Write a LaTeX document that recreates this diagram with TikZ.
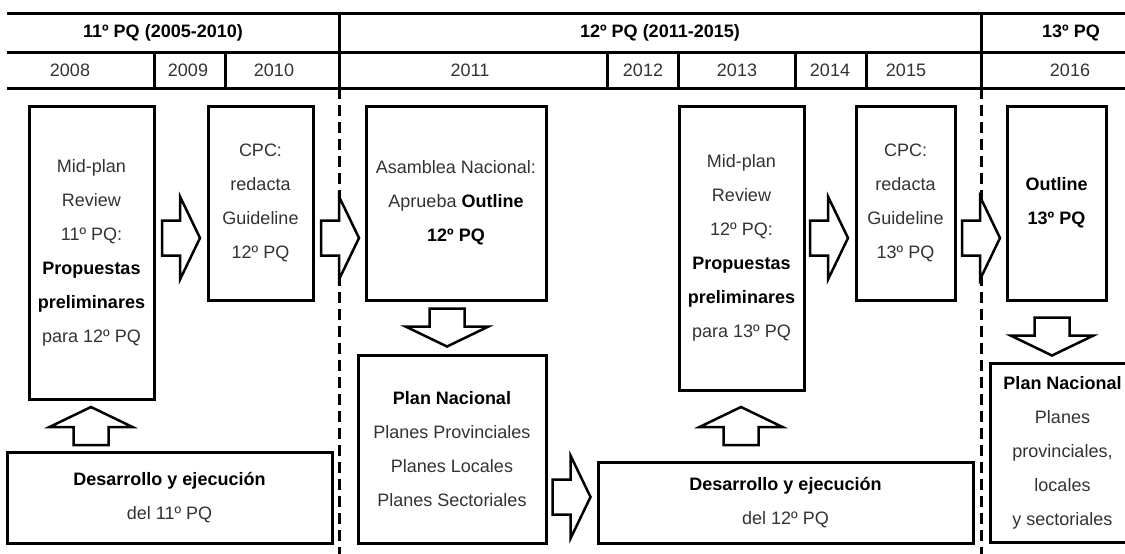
\documentclass[tikz,border=0pt]{standalone}
\usepackage{fontspec}
\setmainfont{Liberation Sans}
\usetikzlibrary{positioning}
\tikzstyle{StageBox}=[rectangle, draw=black, line width=3pt, fill=white, align=center, inner sep=0pt, text=black!80, font=\fontsize{18}{34}\selectfont]
\tikzstyle{HeadText}=[font=\bfseries\fontsize{18}{22}\selectfont]
\tikzstyle{YearText}=[text=black!80, font=\fontsize{18}{22}\selectfont]
\tikzstyle{GridLine}=[line width=3pt]
\tikzstyle{PeriodLine}=[line width=3pt, dash pattern=on 11pt off 6pt]
\tikzstyle{BlockArrow}=[draw=black, line width=2.5pt, fill=white, line join=miter]
\newcommand{\hb}[1]{\textcolor{black}{\textbf{#1}}}
\tikzset{pics/blockarrow/.style={code={
  \path[BlockArrow] (-19,-17.5) -- (-1,-17.5) -- (-1,-41.5) -- (19,0) -- (-1,41.5) -- (-1,17.5) -- (-19,17.5) -- cycle;
}}}

\begin{document}
\begin{tikzpicture}[x=1pt, y=-1pt]
    \useasboundingbox (0,0) rectangle (1125,554);
    \clip (0,0) rectangle (1125,554);

    % header rows
    \draw[GridLine] (7,13) -- (1130,13);
    \draw[GridLine] (7,52) -- (1130,52);
    \draw[GridLine] (7,88) -- (1130,88);
    \draw[GridLine] (339,13) -- (339,88);
    \draw[GridLine] (981,13) -- (981,88);
    \foreach \gx in {154,225,607,678,795,866}
      \draw[GridLine] (\gx,52) -- (\gx,88);

    \node (pq11) [HeadText] at (163,33) {11º PQ (2005-2010)};
    \node (pq12) [HeadText] at (660,33) {12º PQ (2011-2015)};
    \node (pq13) [HeadText] at (1071,33) {13º PQ};
    \foreach \cx/\yr in {70/2008, 188/2009, 274/2010, 470/2011, 643/2012, 737/2013, 830/2014, 906/2015, 1070/2016}
      \node (y\yr) [YearText] at (\cx,70) {\yr};

    % period limits
    \draw[PeriodLine] (339,88) -- (339,554);
    \draw[PeriodLine] (981,88) -- (981,554);

    % stages
    \node (mpr11) [StageBox, minimum width=125, minimum height=293] at (91.5,252.5) {
      Mid-plan\\ Review\\ 11º PQ:\\ \hb{Propuestas}\\ \hb{preliminares}\\ para 12º PQ
    };
    \node (cpc12) [StageBox, minimum width=105, minimum height=194] at (260.5,203) {
      CPC:\\ redacta\\ Guideline\\ 12º PQ
    };
    \node (outl12) [StageBox, minimum width=180, minimum height=194] at (456,203) {
      Asamblea Nacional:\\ Aprueba \hb{Outline}\\ \hb{12º PQ}
    };
    \node (plan12) [StageBox, minimum width=188, minimum height=188] at (452,449) {
      \hb{Plan Nacional}\\ Planes Provinciales\\ Planes Locales\\ Planes Sectoriales
    };
    \node (dev11) [StageBox, minimum width=325, minimum height=91] at (169.5,497.5) {
      \hb{Desarrollo y ejecución}\\ del 11º PQ
    };
    \node (mpr12) [StageBox, minimum width=125, minimum height=284] at (741.5,248) {
      Mid-plan\\ Review\\ 12º PQ:\\ \hb{Propuestas}\\ \hb{preliminares}\\ para 13º PQ
    };
    \node (cpc13) [StageBox, minimum width=99, minimum height=194] at (905.5,203) {
      CPC:\\ redacta\\ Guideline\\ 13º PQ
    };
    \node (outl13) [StageBox, minimum width=99, minimum height=194] at (1056.5,203) {
      \hb{Outline}\\ \hb{13º PQ}
    };
    \node (dev12) [StageBox, minimum width=375, minimum height=81] at (785.5,502.5) {
      \hb{Desarrollo y ejecución}\\ del 12º PQ
    };
    \node (plan13) [StageBox, minimum width=145, minimum height=179] at (1062.5,452.5) {
      \hb{Plan Nacional}\\ Planes\\ provinciales,\\ locales\\ y sectoriales
    };

    % block arrows
    \pic at (181,238) {blockarrow};
    \pic at (340,238) {blockarrow};
    \pic at (829,238) {blockarrow};
    \pic at (981,238) {blockarrow};
    \pic at (571.5,497) {blockarrow};
    \pic[rotate=-90] at (447,327.5) {blockarrow};
    \pic[rotate=-90] at (1052,336.5) {blockarrow};
    \pic[rotate=90] at (91,426) {blockarrow};
    \pic[rotate=90] at (741,426) {blockarrow};
\end{tikzpicture}
\end{document}
